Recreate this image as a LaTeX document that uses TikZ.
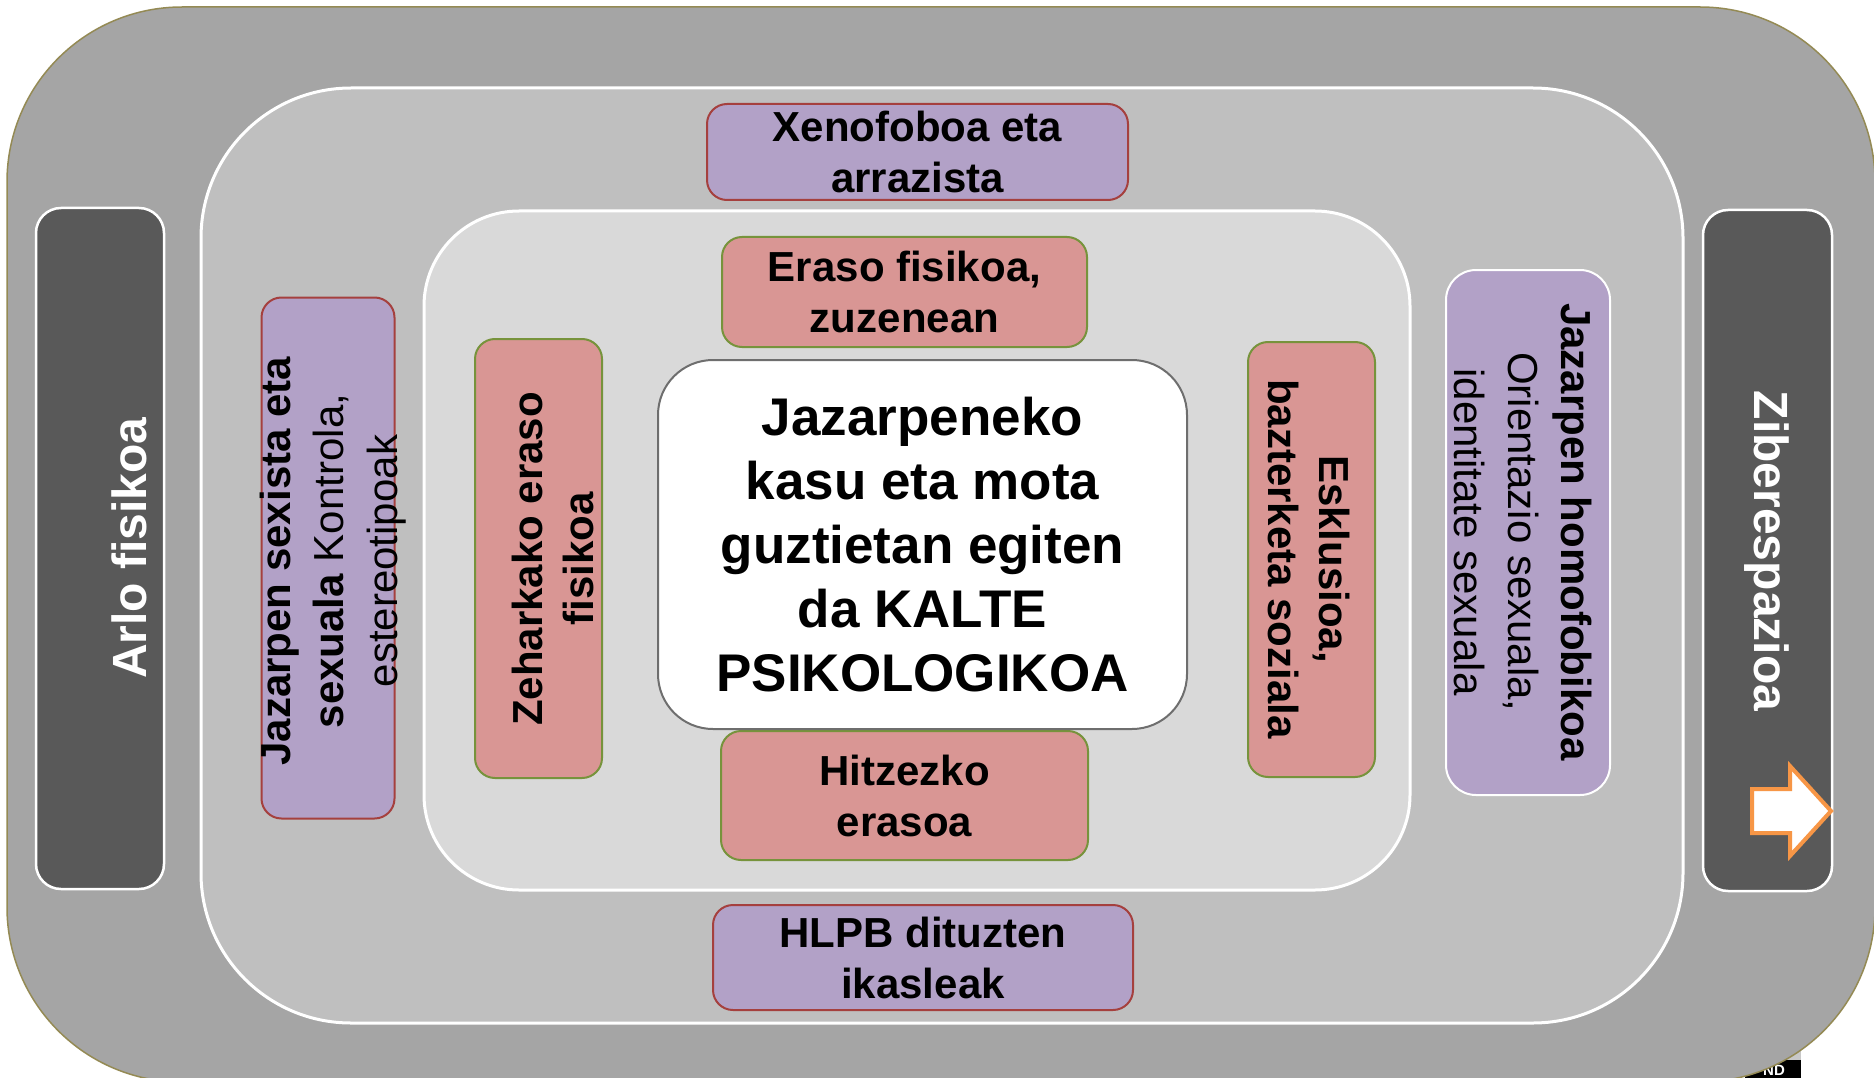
\documentclass[tikz,border=0pt]{standalone}
\usepackage{fontspec}
\setmainfont{Liberation Sans}
\definecolor{outerfill}{HTML}{A5A5A5}
\definecolor{outerline}{HTML}{948A54}
\definecolor{midfill}{HTML}{BFBFBF}
\definecolor{innerfill}{HTML}{D9D9D9}
\definecolor{darkfill}{HTML}{595959}
\definecolor{purplefill}{HTML}{B2A1C7}
\definecolor{purpleline}{HTML}{A5403E}
\definecolor{redfill}{HTML}{D99694}
\definecolor{greenline}{HTML}{77933C}
\definecolor{centreline}{HTML}{6E6E6E}
\definecolor{arroworange}{HTML}{F79646}
\definecolor{ndstrip}{HTML}{C8C8C8}
\begin{document}
\begin{tikzpicture}[x=1pt,y=-1pt,
  box/.style={rectangle, inner sep=0pt, outer sep=0pt},
  ringouter/.style={box, fill=outerfill, draw=outerline, line width=1.5pt, rounded corners=175pt},
  ringmid/.style={box, fill=midfill, draw=white, line width=3pt, rounded corners=150pt},
  ringinner/.style={box, fill=innerfill, draw=white, line width=3pt, rounded corners=95pt},
  darkbox/.style={box, fill=darkfill, draw=white, line width=2.5pt, rounded corners=25pt},
  purplebox/.style={box, fill=purplefill, draw=purpleline, line width=2pt, rounded corners=20pt},
  redbox/.style={box, fill=redfill, draw=greenline, line width=2pt, rounded corners=20pt},
  centrebox/.style={box, fill=white, draw=centreline, line width=2pt, rounded corners=55pt},
  txt/.style={inner sep=0pt, align=center, font=\fontsize{42}{51}\selectfont\bfseries},
  sidetxt/.style={inner sep=0pt, align=center, font=\fontsize{42}{53.5}\selectfont},
  bigtxt/.style={inner sep=0pt, align=center, font=\fontsize{53}{64}\selectfont\bfseries},
  areatxt/.style={inner sep=0pt, text=white, font=\fontsize{48}{58}\selectfont\bfseries},
  arrowshape/.style={draw=arroworange, fill=white, line width=4pt, line join=miter}
]
\useasboundingbox (0,0) rectangle (1874,1078);
\clip (0,0) rectangle (1874,1078);

% partially hidden licence tag
\fill[ndstrip] (1745,1046) rectangle (1801,1060);
\fill[black] (1745,1060) rectangle (1801,1090);
\node[inner sep=0pt, text=white, font=\fontsize{15}{15}\selectfont\bfseries] (nd) at (1774,1070) {ND};

% nested areas
\node[ringouter, minimum width=1868pt, minimum height=1075pt] (outer) at (941,544.5) {};
\node[ringmid, minimum width=1482pt, minimum height=935pt] (mid) at (942,555.5) {};
\node[ringinner, minimum width=986pt, minimum height=679pt] (inner) at (917,550.5) {};

% side areas
\node[darkbox, minimum width=128pt, minimum height=681pt] (arlo) at (100,548.5) {};
\node[areatxt, rotate=90] (arlotxt) at (129.5,548) {Arlo fisikoa};
\node[darkbox, minimum width=129pt, minimum height=681pt] (ziber) at (1767.5,550.5) {};
\node[areatxt, rotate=-90] (zibertxt) at (1767,551) {Ziberespazioa};
\draw[arrowshape] (1752,789) -- (1790,789) -- (1790,766) -- (1831,811) -- (1790,856) -- (1790,833) -- (1752,833) -- cycle;

% purple boxes
\node[purplebox, minimum width=421pt, minimum height=96pt] (xeno) at (917.5,152) {};
\node[txt] (xenotxt) at (xeno.center) {Xenofoboa eta\\arrazista};
\node[purplebox, minimum width=420pt, minimum height=105pt] (hlpb) at (923,957.5) {};
\node[txt] (hlpbtxt) at (hlpb.center) {HLPB dituzten\\ikasleak};
\node[purplebox, minimum width=133pt, minimum height=521pt] (sexista) at (328,558) {};
\node[sidetxt, rotate=90] (sexistatxt) at (333,561) {\textbf{Jazarpen sexista eta}\\\textbf{sexuala} Kontrola,\\estereotipoak};
\node[purplebox, draw=white, rounded corners=30pt, minimum width=164pt, minimum height=525pt] (homo) at (1528,532.5) {};
\node[sidetxt, rotate=-90] (homotxt) at (1523,532) {\textbf{Jazarpen homofobikoa}\\Orientazio sexuala,\\identitate sexuala};

% red boxes
\node[redbox, minimum width=365pt, minimum height=110pt] (eraso) at (904.5,292) {};
\node[txt] (erasotxt) at (eraso.center) {Eraso fisikoa,\\zuzenean};
\node[redbox, minimum width=367pt, minimum height=129pt] (hitz) at (904.5,795.5) {};
\node[txt] (hitztxt) at (hitz.center) {Hitzezko\\erasoa};
\node[redbox, minimum width=127pt, minimum height=439pt] (zehar) at (538.5,558.5) {};
\node[txt, rotate=90] (zehartxt) at (552.5,559) {Zeharkako eraso\\fisikoa};
\node[redbox, minimum width=127pt, minimum height=435pt] (eskl) at (1311.5,559.5) {};
\node[txt, rotate=-90] (eskltxt) at (1309,559) {Esklusioa,\\bazterketa soziala};

% centre
\node[centrebox, minimum width=529pt, minimum height=369pt] (centre) at (922.5,544.5) {};
\node[bigtxt] (centretxt) at (centre.center) {Jazarpeneko\\kasu eta mota\\guztietan egiten\\da KALTE\\PSIKOLOGIKOA};
\end{tikzpicture}
\end{document}
